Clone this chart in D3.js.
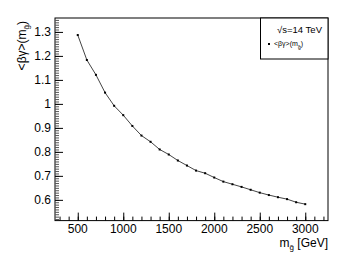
<!DOCTYPE html>
<html>
<head>
<meta charset="utf-8">
<script src="https://cdn.jsdelivr.net/npm/d3@7"></script>
<style>
  body { margin: 0; background: #fff; }
  text { font-family: "Liberation Sans", Arial, sans-serif; fill: #000; }
</style>
</head>
<body>
<div id="chart"></div>
<script>
// data
var masses = [500, 600, 700, 800, 900, 1000, 1100, 1200, 1300, 1400, 1500, 1600, 1700,
              1800, 1900, 2000, 2100, 2200, 2300, 2400, 2500, 2600, 2700, 2800, 2900, 3000];
var betaGamma = [1.287, 1.183, 1.121, 1.047, 0.992, 0.953, 0.908, 0.868, 0.842, 0.810,
                 0.789, 0.764, 0.743, 0.722, 0.711, 0.693, 0.676, 0.665, 0.654, 0.642,
                 0.630, 0.620, 0.611, 0.603, 0.590, 0.582];
var xTicks = [500, 1000, 1500, 2000, 2500, 3000];
var yTicks = [0.6, 0.7, 0.8, 0.9, 1, 1.1, 1.2, 1.3];

// frame geometry
var width = 339, height = 254;
var frameL = 55, frameR = 328, frameT = 18, frameB = 220.6;

var x = d3.scaleLinear().domain([250, 3250]).range([frameL, frameR]);
var y = d3.scaleLinear().domain([0.5135, 1.358]).range([frameB, frameT]);

var svg = d3.select("#chart").append("svg")
    .attr("width", width)
    .attr("height", height);

// frame
svg.append("rect")
    .attr("x", frameL).attr("y", frameT)
    .attr("width", frameR - frameL).attr("height", frameB - frameT)
    .attr("fill", "none").attr("stroke", "#000").attr("stroke-width", 1);

// x axis, ticks pointing up
var xMinor = d3.range(300, 3250, 100);
svg.append("g")
    .attr("transform", "translate(0," + frameB + ")")
    .call(d3.axisTop(x).tickValues(xMinor).tickSize(4).tickFormat(""))
    .call(function(g) { g.select(".domain").remove(); });

svg.append("g")
    .attr("transform", "translate(0," + frameB + ")")
    .call(d3.axisTop(x).tickValues(xTicks).tickSize(8).tickFormat(""))
    .call(function(g) { g.select(".domain").remove(); });

svg.append("g").selectAll("text")
    .data(xTicks)
    .enter().append("text")
    .attr("x", function(d) { return x(d); })
    .attr("y", frameB + 12)
    .attr("text-anchor", "middle")
    .attr("font-size", 12)
    .text(function(d) { return d; });

// y axis, ticks pointing right
var yMinor = d3.range(52, 136, 1).map(function(v) { return v / 100; });
svg.append("g")
    .attr("transform", "translate(" + frameL + ",0)")
    .call(d3.axisRight(y).tickValues(yMinor).tickSize(4).tickFormat(""))
    .call(function(g) { g.select(".domain").remove(); g.selectAll("line").attr("stroke", "#555"); });

svg.append("g")
    .attr("transform", "translate(" + frameL + ",0)")
    .call(d3.axisRight(y).tickValues(yTicks).tickSize(8).tickFormat(""))
    .call(function(g) { g.select(".domain").remove(); });

svg.append("g").selectAll("text")
    .data(yTicks)
    .enter().append("text")
    .attr("x", frameL - 4)
    .attr("y", function(d) { return y(d) + 4; })
    .attr("text-anchor", "end")
    .attr("font-size", 12)
    .text(function(d) { return d; });

// axis titles
var yt = svg.append("text")
    .attr("transform", "translate(26," + (frameT + 3) + ") rotate(-90)")
    .attr("text-anchor", "end")
    .attr("font-size", 12);
yt.append("tspan").text("<βγ>(m");
yt.append("tspan").attr("font-size", 8).attr("dy", 3).text("g̃");
yt.append("tspan").attr("dy", -3).text(")");

var xt = svg.append("text")
    .attr("x", frameR)
    .attr("y", frameB + 26)
    .attr("text-anchor", "end")
    .attr("font-size", 12);
xt.append("tspan").text("m");
xt.append("tspan").attr("font-size", 8).attr("dy", 3).text("g̃");
xt.append("tspan").attr("dy", -3).text(" [GeV]");

// curve
var pts = masses.map(function(m, i) { return { m: m, v: betaGamma[i] }; });
var line = d3.line()
    .x(function(d) { return x(d.m); })
    .y(function(d) { return y(d.v); });

svg.append("path")
    .datum(pts)
    .attr("d", line)
    .attr("fill", "none")
    .attr("stroke", "#444")
    .attr("stroke-width", 1);

svg.append("g").selectAll("rect")
    .data(pts)
    .enter().append("rect")
    .attr("x", function(d) { return x(d.m) - 1; })
    .attr("y", function(d) { return y(d.v) - 1; })
    .attr("width", 2).attr("height", 2)
    .attr("fill", "#000");

// legend
var lg = svg.append("g");
lg.append("rect")
    .attr("x", 260.5).attr("y", frameT)
    .attr("width", frameR - 260.5).attr("height", 41)
    .attr("fill", "#fff").attr("stroke", "#000").attr("stroke-width", 1);
lg.append("text")
    .attr("x", 322).attr("y", 33)
    .attr("text-anchor", "end")
    .attr("font-size", 9.5)
    .text("√s=14 TeV");
lg.append("rect")
    .attr("x", 268).attr("y", 43).attr("width", 2).attr("height", 2)
    .attr("fill", "#000");
var lt = lg.append("text")
    .attr("x", 274).attr("y", 46)
    .attr("font-size", 7);
lt.append("tspan").text("<βγ>(m");
lt.append("tspan").attr("font-size", 5).attr("dy", 2.5).text("g̃");
lt.append("tspan").attr("dy", -2.5).text(")");
</script>
</body>
</html>
